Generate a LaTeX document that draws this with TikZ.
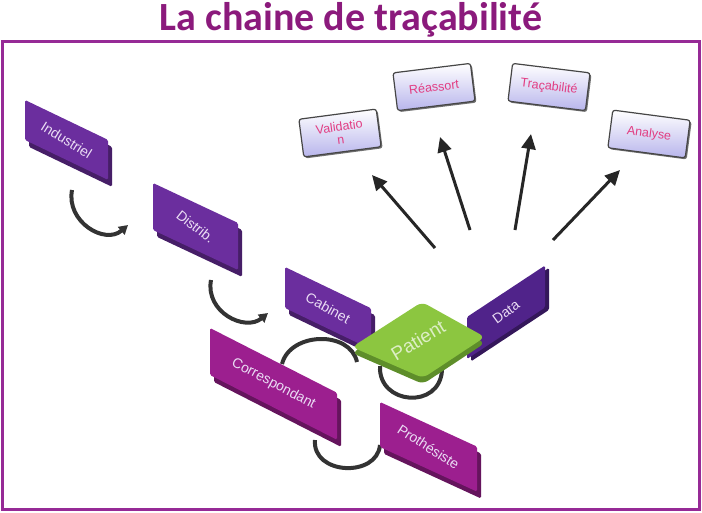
\documentclass[tikz,border=0pt]{standalone}
\usepackage{fontspec}
\setmainfont{Carlito}
\newfontfamily\lblfont{Liberation Sans}
\usetikzlibrary{arrows.meta,calc,shadows}
\definecolor{titlepurple}{HTML}{8B1A7C}
\definecolor{framepurple}{HTML}{962A96}
\definecolor{violetA}{HTML}{6B2E9E}
\definecolor{violetD}{HTML}{50238A}
\definecolor{magA}{HTML}{9C1F8F}
\definecolor{greenA}{HTML}{8CC640}
\definecolor{greenD}{HTML}{5E8E2A}
\definecolor{lav}{HTML}{B8B5EC}
\definecolor{pinktxt}{HTML}{E23D82}
\definecolor{lbltxt}{HTML}{EADCF4}
\tikzset{
  lbl/.style={font=\lblfont\fontsize{14}{14}\selectfont, text=lbltxt, inner sep=0pt},
  topbox/.style={draw=gray!55!black, line width=1.2pt, rounded corners=2.5pt,
    top color=white, bottom color=lav, minimum width=78pt, minimum height=38pt,
    font=\lblfont\fontsize{12.5}{13}\selectfont, text=pinktxt, align=center, inner sep=1pt,
    drop shadow={shadow xshift=1.5pt, shadow yshift=-1.5pt, fill=black!70, opacity=0.8}},
  arr/.style={line width=3pt, black!85, -{Triangle[length=15pt,width=14pt]}},
  carr/.style={line width=4pt, black!80, -{Triangle[length=9pt,width=10pt]}},
  ring/.style={line width=4pt, black!80}
}
% name, x, y, w, h, canvas slant, colour, text rotation, text
\newcommand\slbox[9]{%
  \begin{scope}[shift={(#2,#3)}, yslant=#6]
    \fill[#7!65!black, rounded corners=1.5pt] (4,5) rectangle ++(#4,#5);
    \fill[#7, rounded corners=1.5pt] (0,0) rectangle (#4,#5);
    \node[lbl, rotate=#8] (#1) at (#4/2,#5/2) {#9};
  \end{scope}}
\begin{document}
\begin{tikzpicture}[x=1pt,y=-1pt]
\useasboundingbox (0,0) rectangle (702,512);
\fill[white] (0,0) rectangle (702,512);
\node[font=\bfseries\fontsize{40}{40}\selectfont, text=titlepurple] (title) at (351,20) {La chaine de traçabilité};
\draw[framepurple, line width=3pt] (2.5,41.5) rectangle (699.5,509.5);

% curved arrows along the chain
\coordinate (c1a) at (72,190); \coordinate (c1b) at (128,225);
\coordinate (c2a) at (211,280); \coordinate (c2b) at (268,313);
\draw[carr] (c1a) .. controls (66,222) and (105,245) .. (c1b);
\draw[carr] (c2a) .. controls (205,312) and (245,332) .. (c2b);

% rings
\coordinate (r1a) at (282,364); \coordinate (r1b) at (357,362);
\coordinate (r2a) at (380,366); \coordinate (r2b) at (442,370);
\coordinate (r3a) at (315,440); \coordinate (r3b) at (380,445);
\draw[ring] (r1a) .. controls (290,332) and (350,330) .. (r1b);
\draw[ring] (r2a) .. controls (378,405) and (440,410) .. (r2b);
\draw[ring] (r3a) .. controls (312,475) and (377,478) .. (r3b);

% chain boxes
\slbox{ind}{25}{100}{83}{40}{-0.48}{violetA}{-32}{Industriel}
\slbox{dis}{153}{183}{85}{47}{-0.47}{violetA}{-38}{Distrib.}
\slbox{cab}{285}{267}{86}{41}{-0.48}{violetA}{-29}{Cabinet}
\slbox{cor}{210}{328}{127}{47}{-0.51}{magA}{-28}{Correspondant}
\slbox{pro}{380}{402}{97}{45}{-0.46}{magA}{-33}{Prothésiste}
\slbox{dat}{467}{317}{78}{42}{0.66}{violetD}{36}{Data}

% patient
\fill[greenD, rounded corners=6pt] (352,353) -- (422,308) -- (485,343) -- (423,384) -- cycle;
\fill[greenA, rounded corners=6pt] (352,347) -- (422,302) -- (485,337) -- (423,378) -- cycle;
\node[font=\lblfont\fontsize{19}{19}\selectfont, text=greenA!30!white, rotate=31, inner sep=0pt] (pat) at (418,340) {Patient};

% top boxes
\node[topbox, rotate=7.5] (val) at (340,133) {Validatio\\n};
\node[topbox, rotate=7] (rea) at (434,87) {Réassort};
\node[topbox, rotate=-7] (tra) at (549,87) {Traçabilité};
\node[topbox, rotate=-7.5] (ana) at (649,134) {Analyse};

% straight arrows
\coordinate (t1) at (435,248); \coordinate (h1) at (372,175);
\coordinate (t2) at (470,230); \coordinate (h2) at (440,137);
\coordinate (t3) at (515,230); \coordinate (h3) at (531,134);
\coordinate (t4) at (553,240); \coordinate (h4) at (620,170);
\draw[arr] (t1) -- (h1);
\draw[arr] (t2) -- (h2);
\draw[arr] (t3) -- (h3);
\draw[arr] (t4) -- (h4);
\end{tikzpicture}
\end{document}
